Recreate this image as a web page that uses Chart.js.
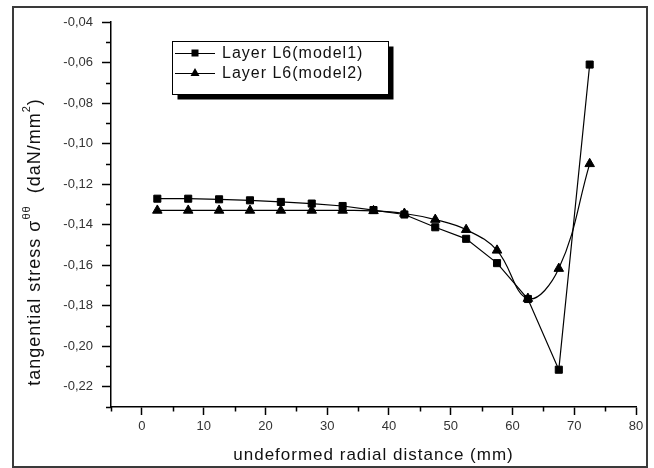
<!DOCTYPE html>
<html>
<head>
<meta charset="utf-8">
<script src="https://cdn.jsdelivr.net/npm/chart.js@4.4.1/dist/chart.umd.min.js"></script>
<style>
  html, body { margin: 0; padding: 0; background: #ffffff; }
  #wrap { width: 654px; height: 468px; position: relative; }
</style>
</head>
<body>
<div id="wrap"><canvas id="c" width="654" height="468"></canvas></div>
<script>
// ---- data ----
const radialDistance = [2.5, 7.5, 12.5, 17.5, 22.5, 27.5, 32.5, 37.5, 42.5, 47.5, 52.5, 57.5, 62.5, 67.5, 72.5];
const model1Stress = [-0.1272, -0.1272, -0.1275, -0.128, -0.1288, -0.1296, -0.1308, -0.1328, -0.135, -0.1413, -0.147, -0.159, -0.1767, -0.2116, -0.061];
const model2Stress = [-0.133, -0.133, -0.133, -0.133, -0.133, -0.133, -0.133, -0.1332, -0.1345, -0.1375, -0.1425, -0.1527, -0.1765, -0.1617, -0.110];
const seriesLabels = ['Layer L6(model1)', 'Layer L6(model2)'];
const xMajorTicks = [0, 10, 20, 30, 40, 50, 60, 70, 80];
const xMinorTicks = [-5, 5, 15, 25, 35, 45, 55, 65, 75];
const yMajorTicks = [-0.22, -0.20, -0.18, -0.16, -0.14, -0.12, -0.10, -0.08, -0.06, -0.04];
const yMinorTicks = [-0.23, -0.21, -0.19, -0.17, -0.15, -0.13, -0.11, -0.09, -0.07, -0.05];
const xTitle = 'undeformed radial distance (mm)';

const FONT = '"Liberation Sans", Arial, sans-serif';

function pts(xs, ys) { return xs.map((x, i) => ({ x: x, y: ys[i] })); }

const framePlugin = {
  id: 'frame',
  beforeDraw(chart) {
    const ctx = chart.ctx;
    ctx.save();
    ctx.fillStyle = '#ffffff';
    ctx.fillRect(0, 0, chart.width, chart.height);
    ctx.restore();
  },
  afterDraw(chart) {
    const ctx = chart.ctx;
    const xs = chart.scales.x, ys = chart.scales.y;
    const area = chart.chartArea;
    ctx.save();
    // outer frame
    ctx.strokeStyle = '#3a3a3a';
    ctx.lineWidth = 2;
    ctx.strokeRect(13, 7, 634, 460);
    // minor ticks
    ctx.strokeStyle = '#000';
    ctx.lineWidth = 1.5;
    ctx.beginPath();
    yMinorTicks.forEach(v => {
      const p = Math.round(ys.getPixelForValue(v)) + 0.5;
      ctx.moveTo(area.left - 5, p); ctx.lineTo(area.left, p);
    });
    xMinorTicks.forEach(v => {
      const p = Math.round(xs.getPixelForValue(v)) + 0.5;
      ctx.moveTo(p, area.bottom); ctx.lineTo(p, area.bottom + 4.5);
    });
    ctx.stroke();

    // x title
    ctx.fillStyle = '#111';
    ctx.font = '17px ' + FONT;
    try { ctx.letterSpacing = '1px'; } catch (e) {}
    ctx.textAlign = 'center';
    ctx.textBaseline = 'middle';
    ctx.fillText(xTitle, (area.left + area.right) / 2, 455);

    // y title with superscripts
    const parts = [
      { t: 'tangential stress \u03C3', f: 18, dy: 0 },
      { t: '\u03B8\u03B8', f: 11, dy: -8 },
      { t: '  (daN/mm', f: 18, dy: 0 },
      { t: '2', f: 11, dy: -8 },
      { t: ')', f: 18, dy: 0 }
    ];
    let total = 0;
    parts.forEach(p => { ctx.font = p.f + 'px ' + FONT; p.w = ctx.measureText(p.t).width; total += p.w; });
    ctx.translate(35, 242);
    ctx.rotate(-Math.PI / 2);
    ctx.textAlign = 'left';
    ctx.textBaseline = 'middle';
    let cx = -total / 2;
    parts.forEach(p => {
      ctx.font = p.f + 'px ' + FONT;
      ctx.fillText(p.t, cx, p.dy);
      cx += p.w;
    });
    ctx.restore();

    // legend
    ctx.save();
    const bx = 172.5, by = 41.5, bw = 216, bh = 53;
    ctx.fillStyle = '#000';
    ctx.fillRect(bx + 5, by + 5, bw, bh);
    ctx.fillStyle = '#fff';
    ctx.fillRect(bx, by, bw, bh);
    ctx.strokeStyle = '#000';
    ctx.lineWidth = 1;
    ctx.strokeRect(bx, by, bw, bh);
    const rows = [53, 73];
    chart.data.datasets.forEach((ds, i) => {
      const y = rows[i];
      ctx.strokeStyle = '#000';
      ctx.lineWidth = 1;
      ctx.beginPath();
      ctx.moveTo(175, y + 0.5); ctx.lineTo(215, y + 0.5);
      ctx.stroke();
      ctx.fillStyle = '#000';
      if (ds.pointStyle === 'rect') {
        ctx.fillRect(195 - 3.5, y - 3.5, 7, 7);
      } else {
        ctx.beginPath();
        ctx.moveTo(195, y - 5);
        ctx.lineTo(199.5, y + 3);
        ctx.lineTo(190.5, y + 3);
        ctx.closePath();
        ctx.fill();
      }
      ctx.font = '16px ' + FONT;
      try { ctx.letterSpacing = '1px'; } catch (e) {}
      ctx.textAlign = 'left';
      ctx.textBaseline = 'middle';
      ctx.fillStyle = '#111';
      ctx.fillText(ds.label, 222, y + 1);
    });
    ctx.restore();
  }
};

new Chart(document.getElementById('c'), {
  type: 'line',
  data: {
    datasets: [
      {
        label: seriesLabels[0],
        data: pts(radialDistance, model1Stress),
        borderColor: '#000',
        backgroundColor: '#000',
        borderWidth: 1.2,
        pointStyle: 'rect',
        pointRadius: 5,
        pointBorderWidth: 1,
        tension: 0
      },
      {
        label: seriesLabels[1],
        data: pts(radialDistance, model2Stress),
        borderColor: '#000',
        backgroundColor: '#000',
        borderWidth: 1.2,
        pointStyle: 'triangle',
        pointRadius: 5.5,
        pointBorderWidth: 1,
        tension: 0.4
      }
    ]
  },
  options: {
    responsive: false,
    animation: false,
    clip: false,
    layout: { padding: { left: 0, top: 22, right: 18, bottom: 0 } },
    plugins: { legend: { display: false }, tooltip: { enabled: false } },
    scales: {
      x: {
        type: 'linear',
        min: -5,
        max: 80,
        afterFit(s) { s.height = 61; },
        afterBuildTicks(s) { s.ticks = xMajorTicks.map(v => ({ value: v })); },
        ticks: {
          color: '#333',
          font: { family: FONT, size: 13 },
          padding: 4,
          maxRotation: 0,
          callback: v => String(v)
        },
        grid: { drawOnChartArea: false, drawTicks: true, tickLength: 8, tickColor: '#000', tickWidth: 1.5 },
        border: { display: true, color: '#000', width: 1.5 }
      },
      y: {
        type: 'linear',
        min: -0.23,
        max: -0.04,
        afterFit(s) { s.width = 111; },
        afterBuildTicks(s) { s.ticks = yMajorTicks.map(v => ({ value: v })); },
        ticks: {
          color: '#333',
          font: { family: FONT, size: 13 },
          padding: 9,
          callback: v => v.toFixed(2).replace('.', ',')
        },
        grid: { drawOnChartArea: false, drawTicks: true, tickLength: 9, tickColor: '#000', tickWidth: 1.5 },
        border: { display: true, color: '#000', width: 1.5 }
      }
    }
  },
  plugins: [framePlugin]
});
</script>
</body>
</html>
